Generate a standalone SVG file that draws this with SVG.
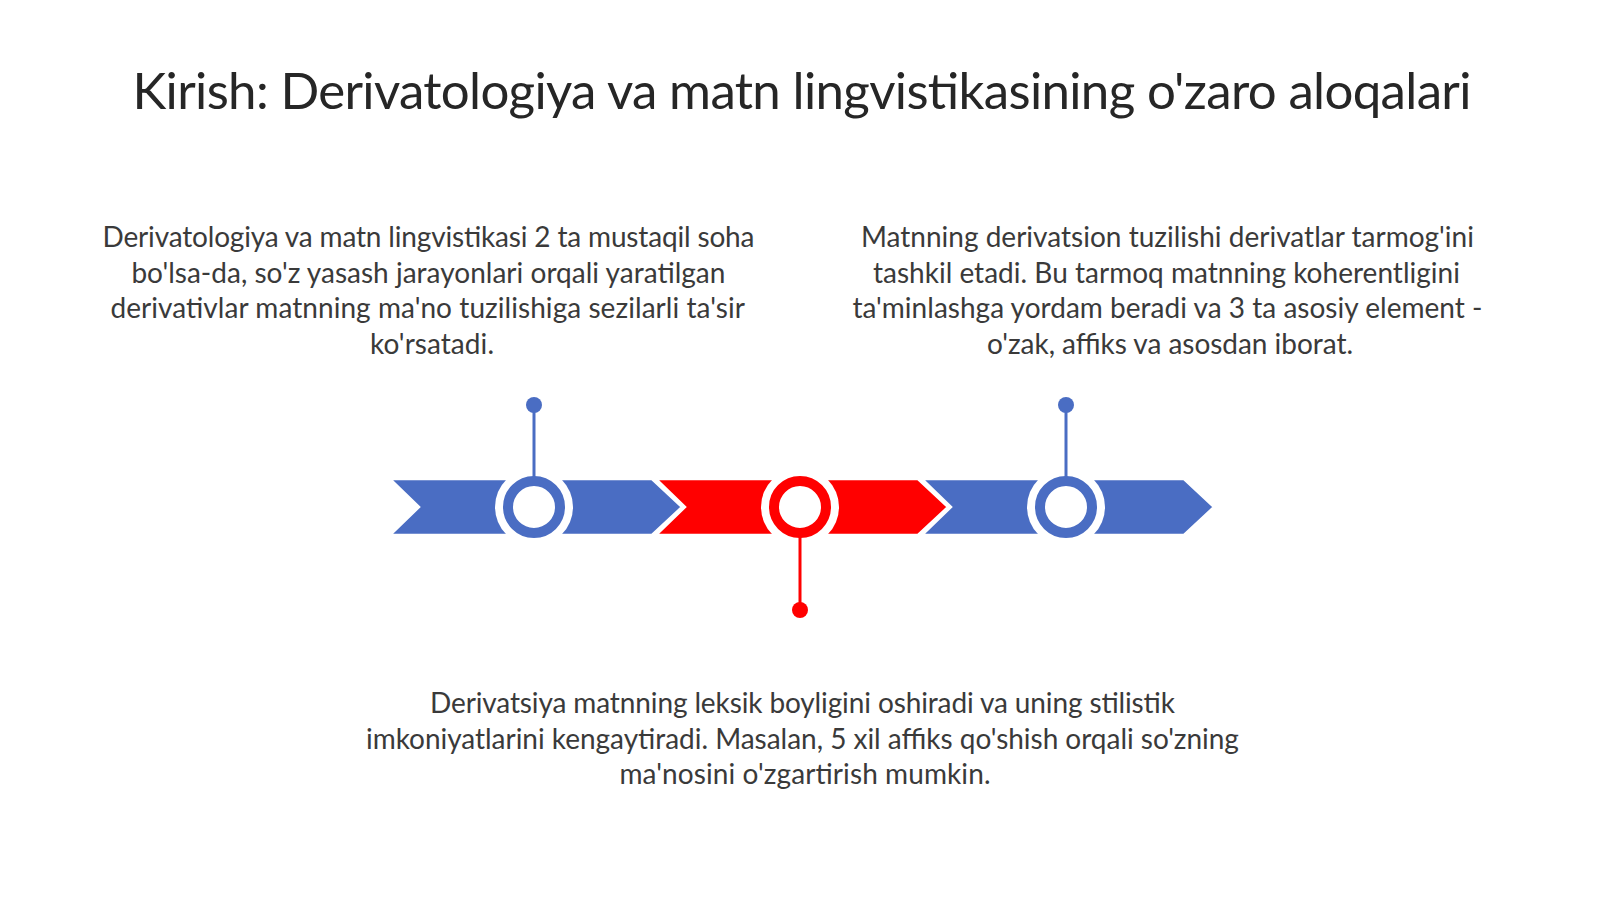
<svg xmlns="http://www.w3.org/2000/svg" width="1600" height="899" viewBox="0 0 1600 899">
  <style>
    .title { font-family: "Lato", "Liberation Sans", sans-serif; font-size: 51px; fill: #262626; }
    .body { font-family: "Lato", "Liberation Sans", sans-serif; font-size: 28px; fill: #3a3a3a; }
    .blue { fill: #4A6DC3; }
    .red { fill: #FF0000; }
    .chev { stroke: #FFFFFF; stroke-width: 2.5; stroke-linejoin: miter; }
    .halo { fill: #FFFFFF; }
    .ringB { fill: #FFFFFF; stroke: #4A6DC3; stroke-width: 10; }
    .ringR { fill: #FFFFFF; stroke: #FF0000; stroke-width: 10; }
    .stemB { stroke: #4A6DC3; stroke-width: 3; fill: none; }
    .stemR { stroke: #FF0000; stroke-width: 3; fill: none; }
  </style>
  <rect x="0" y="0" width="1600" height="899" fill="#FFFFFF"/>

  <g id="title">
    <text class="title" x="802" y="109" text-anchor="middle" textLength="1339">Kirish: Derivatologiya va matn lingvistikasining o'zaro aloqalari</text>
  </g>

  <g id="text-left">
    <text class="body" text-anchor="middle">
      <tspan x="432" y="247" textLength="652">Derivatologiya va matn lingvistikasi 2 ta mustaqil soha</tspan>
      <tspan x="432" y="282.5" textLength="594">bo'lsa-da, so'z yasash jarayonlari orqali yaratilgan</tspan>
      <tspan x="431" y="318" textLength="634">derivativlar matnning ma'no tuzilishiga sezilarli ta'sir</tspan>
      <tspan x="432" y="353.5" textLength="124">ko'rsatadi.</tspan>
    </text>
  </g>

  <g id="text-right">
    <text class="body" text-anchor="middle">
      <tspan x="1171" y="247" textLength="613">Matnning derivatsion tuzilishi derivatlar tarmog'ini</tspan>
      <tspan x="1170" y="282.5" textLength="587">tashkil etadi. Bu tarmoq matnning koherentligini</tspan>
      <tspan x="1171" y="318" textLength="630">ta'minlashga yordam beradi va 3 ta asosiy element -</tspan>
      <tspan x="1170" y="353.5" textLength="366">o'zak, affiks va asosdan iborat.</tspan>
    </text>
  </g>

  <g id="text-bottom">
    <text class="body" text-anchor="middle">
      <tspan x="806" y="713" textLength="745">Derivatsiya matnning leksik boyligini oshiradi va uning stilistik</tspan>
      <tspan x="806" y="748.5" textLength="873">imkoniyatlarini kengaytiradi. Masalan, 5 xil affiks qo'shish orqali so'zning</tspan>
      <tspan x="805" y="784" textLength="371">ma'nosini o'zgartirish mumkin.</tspan>
    </text>
  </g>

  <g id="step-1">
    <polygon class="blue chev" points="390,479 652,479 682,507 652,535 390,535 419,507"/>
  </g>
  <g id="step-2">
    <polygon class="red chev" points="656,479 918,479 948,507 918,535 656,535 685,507"/>
  </g>
  <g id="step-3">
    <polygon class="blue chev" points="922,479 1184,479 1214,507 1184,535 922,535 951,507"/>
  </g>

  <g id="milestones">
    <g id="milestone-1">
      <circle class="halo" cx="534" cy="507" r="39"/>
      <circle class="ringB" cx="534" cy="507" r="26"/>
    </g>
    <g id="milestone-2">
      <circle class="halo" cx="800" cy="507" r="39"/>
      <circle class="ringR" cx="800" cy="507" r="26"/>
    </g>
    <g id="milestone-3">
      <circle class="halo" cx="1066" cy="507" r="39"/>
      <circle class="ringB" cx="1066" cy="507" r="26"/>
    </g>
  </g>

  <g id="connectors">
    <line class="stemB" x1="534" y1="405" x2="534" y2="477"/>
    <circle class="blue" cx="534" cy="405" r="8"/>
    <line class="stemR" x1="800" y1="537" x2="800" y2="610"/>
    <circle class="red" cx="800" cy="610" r="8"/>
    <line class="stemB" x1="1066" y1="405" x2="1066" y2="477"/>
    <circle class="blue" cx="1066" cy="405" r="8"/>
  </g>
</svg>
